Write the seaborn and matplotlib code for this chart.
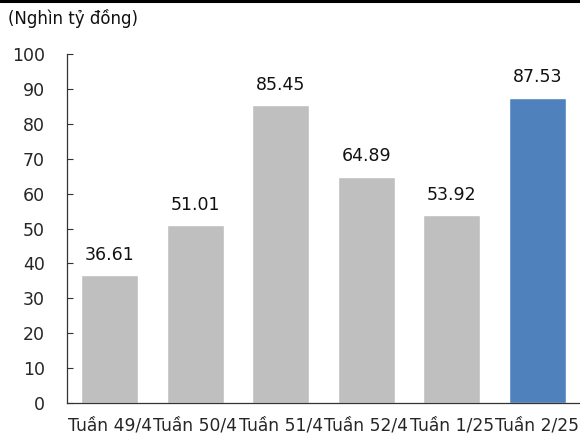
import matplotlib
matplotlib.use("Agg")
import matplotlib.pyplot as plt
import seaborn as sns
import pandas as pd

weeks = ["Tuần 49/4", "Tuần 50/4", "Tuần 51/4", "Tuần 52/4", "Tuần 1/25", "Tuần 2/25"]
values = [36.61, 51.01, 85.45, 64.89, 53.92, 87.53]
bar_colors = ["#BFBFBF", "#BFBFBF", "#BFBFBF", "#BFBFBF", "#BFBFBF", "#4F81BD"]
y_ticks = [0, 10, 20, 30, 40, 50, 60, 70, 80, 90, 100]
unit_label = "(Nghìn tỷ đồng)"

sns.set_style("white")
plt.rcParams["font.family"] = ["DejaVu Sans"]

df = pd.DataFrame({"week": weeks, "value": values})

W, H = 580, 443
fig = plt.figure(figsize=(W / 100, H / 100), dpi=100)
ax = fig.add_axes([67 / W, 1 - 403 / H, 1 - 67 / W, (403 - 54) / H])

sns.barplot(data=df, x="week", y="value", hue="week", palette=bar_colors,
            legend=False, width=0.67, saturation=1, ax=ax)

for i, v in enumerate(values):
    ax.annotate(f"{v:.2f}", (i, v), xytext=(0, 8), textcoords="offset points",
                ha="center", va="bottom", fontsize=12.5, color="#111111")

ax.set_ylim(0, 100)
ax.set_xlim(-0.5, 5.5)
ax.set_yticks(y_ticks)
ax.set_xlabel("")
ax.set_ylabel("")
ax.tick_params(axis="y", left=True, direction="in", length=4, width=0.8,
               color="#333333", labelsize=12.5, pad=16)
ax.tick_params(axis="x", bottom=False, labelsize=12.3, pad=6.5)
for s in ["top", "right"]:
    ax.spines[s].set_visible(False)
for s in ["left", "bottom"]:
    ax.spines[s].set_color("#333333")
    ax.spines[s].set_linewidth(0.9)

fig.text(8 / W, 1 - 18 / H, unit_label, ha="left", va="center", fontsize=12, color="#111111")
fig.add_artist(plt.Line2D([0, 1], [1 - 1 / H, 1 - 1 / H], color="black", linewidth=2.2,
                          transform=fig.transFigure))

fig.savefig("out.png", dpi=100)
